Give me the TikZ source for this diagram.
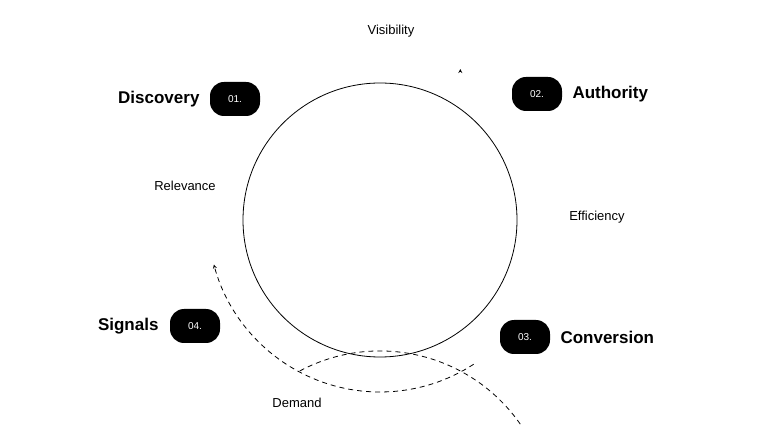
\documentclass[tikz,border=0pt]{standalone}
\usepackage{fontspec}
\setmainfont{Liberation Sans}
\begin{document}
\begin{tikzpicture}[x=1pt,y=-1pt,
 pill/.style={fill=black,text=white,rounded corners=14pt,minimum width=50pt,minimum height=34pt,font=\fontsize{10}{12}\selectfont},
 big/.style={font=\fontsize{17}{20}\selectfont\bfseries},
 small/.style={font=\fontsize{13}{15}\selectfont},
 arc/.style={dashed,thick,dash pattern=on 5pt off 4pt,-stealth}]
\useasboundingbox (0,0) rectangle (760,427);
\node[circle,draw,thick,minimum size=274pt] (c) at (380,220) {};
\node[pill] (p1) at (235,99) {01.};
\node[pill] (p2) at (537,94) {02.};
\node[pill] (p3) at (525,337) {03.};
\node[pill] (p4) at (195,326) {04.};
\node[big,anchor=east] (l1) at (203,99) {Discovery};
\node[big,anchor=west] (l2) at (569,94) {Authority};
\node[big,anchor=west] (l3) at (557,337) {Conversion};
\node[big,anchor=east] (l4) at (162,326) {Signals};
\node[small] (v) at (391,31) {Visibility};
\node[small] (r) at (185,186) {Relevance};
\node[small] (e) at (597,217) {Efficiency};
\node[small] (d) at (297,403) {Demand};
\coordinate (o) at (380,220);
\draw[arc] ([shift={(118:-171)}]o) ++(0,0) ;
\draw[arc] (o) ++(118:171) arc[start angle=-118,end angle=31,radius=171];
\draw[arc] (o) ++(57:172) arc[start angle=57,end angle=165,radius=172];
\end{tikzpicture}
\end{document}
